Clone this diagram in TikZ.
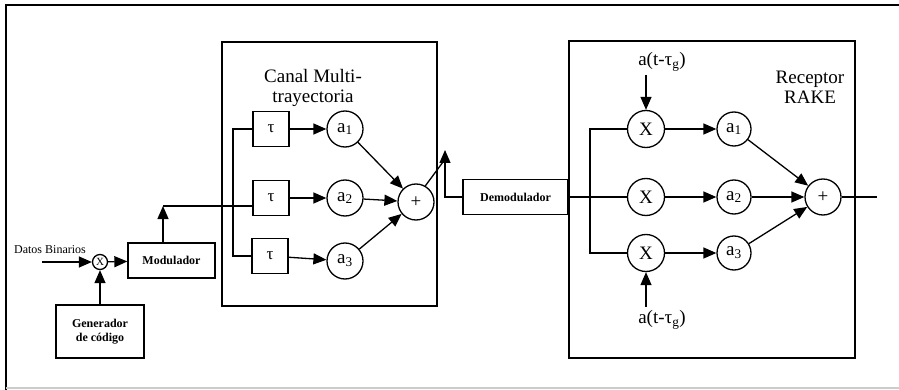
\documentclass[tikz,border=0pt]{standalone}
\usepackage{fontspec}
\setmainfont{Liberation Serif}
\usetikzlibrary{arrows.meta}
\begin{document}
\begin{tikzpicture}[x=1pt,y=-1pt,line width=1.3pt,
  >={Triangle[length=13pt,width=11pt]},
  blk/.style={draw, inner sep=0pt, align=center, font=\fontsize{12}{14}\selectfont\bfseries},
  tbox/.style={draw, inner sep=0pt, minimum width=36pt, minimum height=35pt, font=\fontsize{17}{17}\selectfont},
  ring/.style={draw, circle, inner sep=0pt, minimum size=36pt, font=\fontsize{19}{19}\selectfont},
  lbl/.style={align=center, font=\fontsize{19}{20}\selectfont}]
\useasboundingbox (0,0) rectangle (899,390);
% marco
\draw (6,390) -- (6,5) -- (899,5);
\draw[gray!40] (6,388) -- (899,388);
% transmisor
\node[font=\fontsize{12}{12}\selectfont] (datos) at (50,250) {Datos Binarios};
\coordinate (in) at (42,262);
\node[draw, circle, inner sep=0pt, minimum size=15pt, font=\fontsize{11}{11}\selectfont] (x0) at (100,262) {X};
\node[blk, minimum width=87pt, minimum height=35pt] (mod) at (171.5,260.5) {Modulador};
\node[blk, minimum width=88pt, minimum height=53pt] (gen) at (100,331.5) {Generador\\de código};
\draw[->] (in) -- (x0);
\draw[->] (x0) -- (mod);
\draw[->] (gen) -- (x0);
% canal
\draw (222,42) rectangle (437,306);
\node[lbl] (canal) at (313,88) {Canal Multi-\\trayectoria};
\node[tbox] (t1) at (271,129) {τ};
\node[tbox] (t2) at (271,198) {τ};
\node[tbox] (t3) at (270,256) {τ};
\node[ring] (a1) at (345,129) {a\textsubscript{1}};
\node[ring] (a2) at (345,198) {a\textsubscript{2}};
\node[ring] (a3) at (345,261) {a\textsubscript{3}};
\node[ring] (s1) at (416,202) {+};
\coordinate (k1) at (163,206);
\coordinate (v1) at (233,206);
\draw[->] (mod.north -| k1) -- (k1);
\draw (k1) -- (t2.west |- k1);
\draw (t1.west) -| (v1) |- (t3.west);
\draw[->] (t1) -- (a1);
\draw[->] (t2) -- (a2);
\draw[->] (t3) -- (a3);
\draw[->] (a1) -- (s1);
\draw[->] (a2) -- (s1);
\draw[->] (a3) -- (s1);
% demodulador
\node[blk, minimum width=105pt, minimum height=35pt] (dem) at (515.5,197) {Demodulador};
\coordinate (k2) at (445,150);
\coordinate (k3) at (443,162);
\draw[->] (dem.west) -| (k2);
\draw (s1.60) -- (k3);
% receptor
\draw (569,41) rectangle (855,358);
\node[lbl] (rake) at (810,87) {Receptor\\RAKE};
\node[ring, minimum size=37pt] (m1) at (646,129) {X};
\node[ring, minimum size=37pt] (m2) at (646,197) {X};
\node[ring, minimum size=37pt] (m3) at (646,253) {X};
\node[ring, minimum size=34pt] (r1) at (734,129) {a\textsubscript{1}};
\node[ring, minimum size=34pt] (r2) at (734,197) {a\textsubscript{2}};
\node[ring, minimum size=34pt] (r3) at (734,253) {a\textsubscript{3}};
\node[ring] (s2) at (823,197) {+};
\node[lbl] (g1) at (662,62) {a(t-τ\textsubscript{g})};
\node[lbl] (g2) at (662,320) {a(t-τ\textsubscript{g})};
\coordinate (v2) at (590,197);
\coordinate (out) at (877,197);
\draw (dem) -- (m2);
\draw (m1.west) -| (v2) |- (m3.west);
\draw[->] (g1.south -| m1) -- (m1);
\draw[->] (g2.north -| m3) -- (m3);
\draw[->] (m1) -- (r1);
\draw[->] (m2) -- (r2);
\draw[->] (m3) -- (r3);
\draw[->] (r1) -- (s2);
\draw[->] (r2) -- (s2);
\draw[->] (r3) -- (s2);
\draw (s2) -- (out);
\end{tikzpicture}
\end{document}
